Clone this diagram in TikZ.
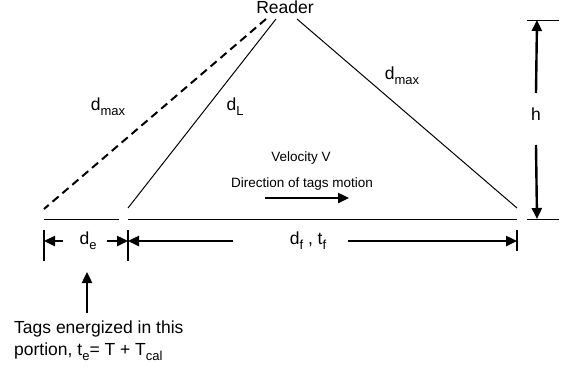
\documentclass[tikz,border=0pt]{standalone}
\usepackage{fontspec}
\setmainfont{Liberation Sans}
\usetikzlibrary{arrows.meta}
\newcommand{\lsub}[1]{\raisebox{-0.28em}{\fontsize{13}{13}\selectfont #1}}
\tikzset{
  big/.style={font=\fontsize{17.5}{20}\selectfont, inner sep=0pt},
  small/.style={font=\fontsize{13.5}{16}\selectfont, inner sep=0pt},
  thinline/.style={line width=1pt},
  dashline/.style={line width=2pt, dash pattern=on 8pt off 5pt},
  dimarrow/.style={line width=2.4pt, -{Triangle[length=11pt,width=10pt]}},
  tickline/.style={line width=1.3pt},
}
\begin{document}
\begin{tikzpicture}[x=1pt,y=-1pt]
\useasboundingbox (0,0) rectangle (563,370);
% reader apex points
\node[big] (reader) at (285,7) {Reader};
\coordinate (dtop) at (266,19);
\coordinate (ltop) at (276,19);
\coordinate (rtop) at (297,19);
\coordinate (dbot) at (44,209);
\coordinate (lbot) at (128,208);
\coordinate (rbot) at (517,208);
\draw[dashline] (dtop) -- (dbot);
\draw[thinline] (ltop) -- (lbot);
\draw[thinline] (rtop) -- (rbot);
% ground
\coordinate (g1) at (44,219);
\coordinate (g2) at (119,219);
\coordinate (g3) at (128,219);
\coordinate (g4) at (517,219);
\coordinate (g5) at (527,219);
\coordinate (g6) at (559,219);
\coordinate (t5) at (527,20);
\coordinate (t6) at (559,20);
\draw[thinline] (g1) -- (g2);
\draw[thinline] (g3) -- (g4);
\draw[thinline] (g5) -- (g6);
\draw[thinline] (t5) -- (t6);
% height
\node[big] (h) at (536,114) {h};
\coordinate (hup) at (537,20);
\coordinate (hdn) at (537,219);
\draw[dimarrow] (h.north |- 0,93) -- (hup);
\draw[dimarrow] (h.south |- 0,145) -- (hdn);
% labels
\node[big] (dmaxl) at (108,107) {d\lsub{max}};
\node[big] (dl) at (235,107) {d\lsub{L}};
\node[big] (dmaxr) at (402,76) {d\lsub{max}};
\node[small] (vel) at (301,158) {Velocity V};
\node[small] (dir) at (302,184) {Direction of tags motion};
\coordinate (ma) at (265,198);
\coordinate (mb) at (349,198);
\draw[dimarrow] (ma) -- (mb);
% dimension ticks
\coordinate (k1a) at (44,230); \coordinate (k1b) at (44,261);
\coordinate (k2a) at (128,230); \coordinate (k2b) at (128,261);
\coordinate (k3a) at (517,230); \coordinate (k3b) at (517,251);
\draw[tickline] (k1a) -- (k1b);
\draw[tickline] (k2a) -- (k2b);
\draw[tickline] (k3a) -- (k3b);
\node[big] (de) at (88,241) {d\lsub{e}};
\node[big] (df) at (308,241) {d\lsub{f} , t\lsub{f}};
\coordinate (e1) at (44,241);
\coordinate (e2) at (128,241);
\coordinate (e3) at (517,241);
\draw[dimarrow] (63,241) -- (e1);
\draw[dimarrow] (107,241) -- (e2);
\draw[dimarrow] (233,241) -- (e2);
\draw[dimarrow] (348,241) -- (e3);
% energized note
\node[big, anchor=north west, align=left, font=\fontsize{17.5}{22}\selectfont] (note) at (14,321)
  {Tags energized in this\\portion, t\lsub{e}= T + T\lsub{cal}};
\coordinate (up) at (87,272);
\draw[dimarrow] (87,313) -- (up);
\end{tikzpicture}
\end{document}
